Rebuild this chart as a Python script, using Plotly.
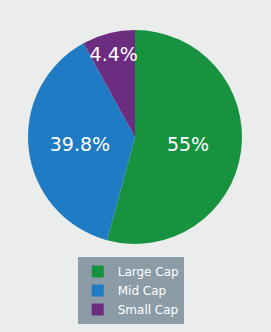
import plotly.graph_objects as go

labels = ["Large Cap", "Mid Cap", "Small Cap"]
values = [54.2, 37.8, 8.0]
text_labels = ["55%", "39.8%", "4.4%"]
colors = ["#17923f", "#1f7bc3", "#6c2c80"]

fig = go.Figure(go.Pie(
    labels=labels,
    values=values,
    text=text_labels,
    textinfo="text",
    textposition="inside",
    insidetextorientation="horizontal",
    sort=False,
    direction="clockwise",
    rotation=0,
    marker=dict(colors=colors, line=dict(width=0)),
    textfont=dict(family="DejaVu Sans", size=19, color="white"),
    hoverinfo="label+text",
))

fig.update_layout(
    width=271, height=332,
    margin=dict(l=28, r=29, t=30, b=88),
    paper_bgcolor="#ebeded",
    plot_bgcolor="#ebeded",
    uniformtext=dict(minsize=19, mode="show"),
    showlegend=True,
    legend=dict(
        x=0.48, xanchor="center",
        yref="container", y=1 - 257 / 332, yanchor="top",
        bgcolor="#8b9ca7",
        font=dict(family="DejaVu Sans", size=12, color="white"),
        itemwidth=30,
        tracegroupgap=0,
    ),
)

fig.write_html("out.html")
